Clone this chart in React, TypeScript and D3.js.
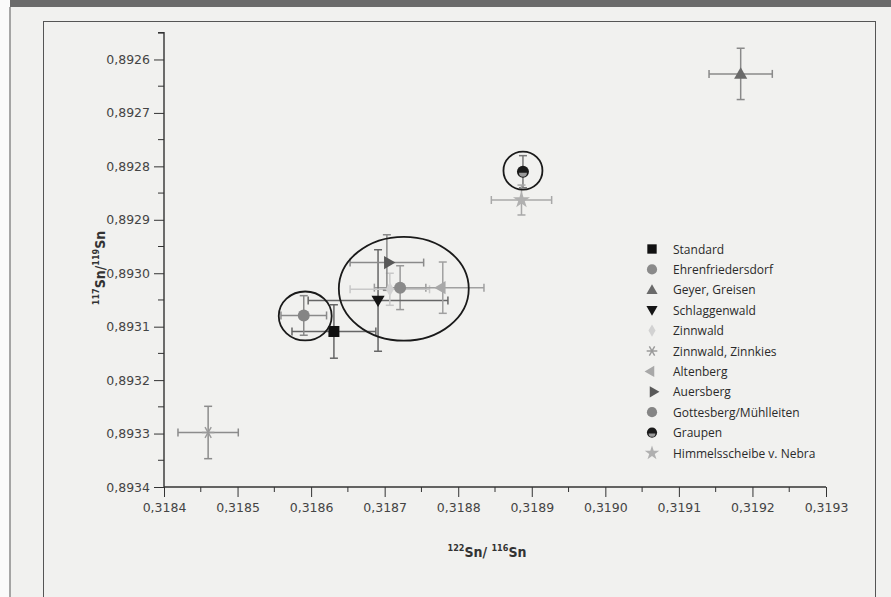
import { useEffect, useRef } from 'react';
import * as d3 from 'd3';

const seriesNames = [
  'Standard', 'Ehrenfriedersdorf', 'Geyer, Greisen', 'Schlaggenwald', 'Zinnwald',
  'Zinnwald, Zinnkies', 'Altenberg', 'Auersberg', 'Gottesberg/Mühlleiten', 'Graupen',
  'Himmelsscheibe v. Nebra',
];
const xValues = [0.318631, 0.318721, 0.319184, 0.318691, 0.318707, 0.31846, 0.318779, 0.318703, 0.31859, 0.318888, 0.318886];
const yValues = [0.893109, 0.893027, 0.892627, 0.893051, 0.89303, 0.893298, 0.893027, 0.89298, 0.893079, 0.89281, 0.892863];
const xErrors = [0.000057, 0.000035, 0.000043, 0.000095, 0.000054, 0.000041, 0.000056, 0.00005, 0.000031, 0, 0.000041];
const yErrors = [0.00005, 0.000041, 0.000048, 0.000095, 0.00003, 0.000049, 0.000048, 0.000052, 0.000037, 0.00003, 0.000028];

// grouping rings: centre x, centre y, half width, half height (data units)
const ringX = [0.318592, 0.318726, 0.318888];
const ringY = [0.89308, 0.893029, 0.892808];
const ringRx = [0.000036, 0.0000883, 0.0000265];
const ringRy = [0.0000458, 0.0000972, 0.0000355];

const xTicks = [0.3184, 0.3185, 0.3186, 0.3187, 0.3188, 0.3189, 0.319, 0.3191, 0.3192, 0.3193];
const yTicks = [0.8926, 0.8927, 0.8928, 0.8929, 0.893, 0.8931, 0.8932, 0.8933, 0.8934];

const W = 891;
const H = 597;

const fillColors = ['#111', '#8a8a8a', '#6a6a6a', '#151515', '#d2d2d2', '#9a9a9a', '#a8a8a8', '#595959', '#858585', '#1a1a1a', '#b0b0b0'];
const barColors = ['#666', '#9a9a9a', '#8a8a8a', '#666', '#c8c8c8', '#8c8c8c', '#a0a0a0', '#8a8a8a', '#8a8a8a', '#777', '#a8a8a8'];

const de = d3.formatLocale({ decimal: ',', thousands: '.', grouping: [3], currency: ['', ''] });
const fmt = de.format('.4f');

function Marker({ i, x, y, scale = 1 }: { i: number; x: number; y: number; scale?: number }) {
  const c = fillColors[i];
  const s = scale;
  const sym = (type: d3.SymbolType, size: number) => d3.symbol().type(type).size(size * s * s)()!;
  switch (i) {
    case 0:
      return <rect x={x - 5.5 * s} y={y - 5.5 * s} width={11 * s} height={11 * s} fill={c} />;
    case 1:
    case 8:
      return <circle cx={x} cy={y} r={6 * s} fill={c} />;
    case 2:
      return <path d={sym(d3.symbolTriangle, 75)} transform={`translate(${x},${y + 1})`} fill={c} />;
    case 3:
      return <path d={sym(d3.symbolTriangle, 75)} transform={`translate(${x},${y - 1}) rotate(180)`} fill={c} />;
    case 4:
      return <path d={sym(d3.symbolDiamond, 60)} transform={`translate(${x},${y})`} fill={c} />;
    case 5:
      return (
        <g stroke={c} strokeWidth={1.4}>
          <path d={sym(d3.symbolAsterisk, 110)} transform={`translate(${x},${y}) rotate(30)`} fill="none" />
        </g>
      );
    case 6:
      return <path d={sym(d3.symbolTriangle, 75)} transform={`translate(${x - 1},${y}) rotate(-90)`} fill={c} />;
    case 7:
      return <path d={sym(d3.symbolTriangle, 75)} transform={`translate(${x + 1},${y}) rotate(90)`} fill={c} />;
    case 9:
      return (
        <g>
          <circle cx={x} cy={y} r={6 * s} fill={c} />
          <path d={`M${x - 4 * s},${y + 1 * s} A${4 * s},${4 * s} 0 0 0 ${x + 4 * s},${y + 1 * s} Z`} fill="#9a9a9a" />
        </g>
      );
    default:
      return <path d={sym(d3.symbolStar, 90)} transform={`translate(${x},${y})`} fill={c} />;
  }
}

export default function App() {
  const xAxisRef = useRef<SVGGElement>(null);
  const yAxisRef = useRef<SVGGElement>(null);

  const x = d3.scaleLinear().domain([0.3184, 0.3193]).range([164, 826]);
  const y = d3.scaleLinear().domain([0.89255, 0.8934]).range([32.75, 487]);

  useEffect(() => {
    const xa = d3.select(xAxisRef.current!);
    xa.selectAll('*').remove();
    xa.call(d3.axisBottom(x).tickValues(xTicks).tickFormat((d) => fmt(d as number)).tickSize(10).tickPadding(6));
    const xMinor = d3.range(0, 9).map((k) => 0.31845 + k * 0.0001);
    xa.selectAll('.minor').data(xMinor).enter().append('line')
      .attr('x1', (d) => x(d)).attr('x2', (d) => x(d)).attr('y1', 0).attr('y2', 5)
      .attr('stroke', '#333');

    const ya = d3.select(yAxisRef.current!);
    ya.selectAll('*').remove();
    ya.call(d3.axisLeft(y).tickValues(yTicks).tickFormat((d) => fmt(d as number)).tickSize(10).tickPadding(4));
    const yMinor = d3.range(0, 9).map((k) => 0.89255 + k * 0.0001);
    ya.selectAll('.minor').data(yMinor).enter().append('line')
      .attr('y1', (d) => y(d)).attr('y2', (d) => y(d)).attr('x1', 0).attr('x2', -6)
      .attr('stroke', '#333');

    [xa, ya].forEach((a) => {
      a.select('.domain').attr('stroke', '#333').attr('stroke-width', 1.4);
      a.selectAll('.tick line').attr('stroke', '#333');
      a.selectAll('.tick text').attr('fill', '#444').style('font-family', 'DejaVu Sans').style('font-size', '12.5px');
    });
    ya.select('.domain').attr('d', `M-6,${y(0.89255)}H0V${y(0.8934)}`);
    xa.select('.domain').attr('d', `M${x(0.3184)},0H${x(0.3193)}V0`);
  }, []);

  const cap = 4;

  return (
    <svg width={W} height={H} style={{ position: 'absolute', left: 0, top: 0 }}>
      <rect width={W} height={H} fill="#f1f1ef" />
      <rect width={W} height={7} fill="#6b6b6b" />
      <rect x={0} y={0} width={10} height={H} fill="#fafafa" />
      <line x1={10} y1={7} x2={10} y2={H} stroke="#8a8a8a" strokeWidth={1.5} />
      <rect x={43.5} y={21.5} width={832} height={H} fill="none" stroke="#555" strokeWidth={1} />

      {/* error bars */}
      {seriesNames.map((_, i) => {
        const cx = x(xValues[i]);
        const cy = y(yValues[i]);
        const x0 = x(xValues[i] - xErrors[i]);
        const x1 = x(xValues[i] + xErrors[i]);
        const y0 = y(yValues[i] - yErrors[i]);
        const y1 = y(yValues[i] + yErrors[i]);
        return (
          <g key={`e${i}`} stroke={barColors[i]} strokeWidth={1.5}>
            {xErrors[i] > 0 && (
              <>
                <line x1={x0} x2={x1} y1={cy} y2={cy} />
                <line x1={x0} x2={x0} y1={cy - cap} y2={cy + cap} />
                <line x1={x1} x2={x1} y1={cy - cap} y2={cy + cap} />
              </>
            )}
            <line x1={cx} x2={cx} y1={y0} y2={y1} />
            <line x1={cx - cap} x2={cx + cap} y1={y0} y2={y0} />
            <line x1={cx - cap} x2={cx + cap} y1={y1} y2={y1} />
          </g>
        );
      })}

      {/* markers */}
      {seriesNames.map((_, i) => (
        <Marker key={`m${i}`} i={i} x={x(xValues[i])} y={y(yValues[i])} />
      ))}

      {/* grouping rings */}
      {ringX.map((rx, k) => (
        <ellipse
          key={`r${k}`}
          cx={x(rx)}
          cy={y(ringY[k])}
          rx={x(rx + ringRx[k]) - x(rx)}
          ry={y(ringY[k] + ringRy[k]) - y(ringY[k])}
          fill="none"
          stroke="#1a1a1a"
          strokeWidth={1.8}
        />
      ))}

      <g ref={xAxisRef} transform={`translate(0,${y(0.8934)})`} />
      <g ref={yAxisRef} transform={`translate(${x(0.3184)},0)`} />

      {/* legend */}
      {seriesNames.map((name, i) => (
        <g key={`l${i}`} transform={`translate(0,${249 + i * 20.4})`}>
          <Marker i={i} x={652} y={0} scale={0.85} />
          <text x={673} y={4.5} fontFamily="Open Sans" fontSize={12} fill="#2a2a2a">{name}</text>
        </g>
      ))}

      {/* axis titles */}
      <text x={487} y={557} textAnchor="middle" fontFamily="DejaVu Sans Condensed" fontWeight="bold" fontSize={14} fill="#333">
        <tspan fontSize={9} dy={-6}>122</tspan>
        <tspan dy={6}>Sn/ </tspan>
        <tspan fontSize={9} dy={-6}>116</tspan>
        <tspan dy={6}>Sn</tspan>
      </text>
      <text transform="translate(105,268) rotate(-90)" textAnchor="middle" fontFamily="DejaVu Sans Condensed" fontWeight="bold" fontSize={14} fill="#333">
        <tspan fontSize={9} dy={-6}>117</tspan>
        <tspan dy={6}>Sn/</tspan>
        <tspan fontSize={9} dy={-6}>119</tspan>
        <tspan dy={6}>Sn</tspan>
      </text>
    </svg>
  );
}
